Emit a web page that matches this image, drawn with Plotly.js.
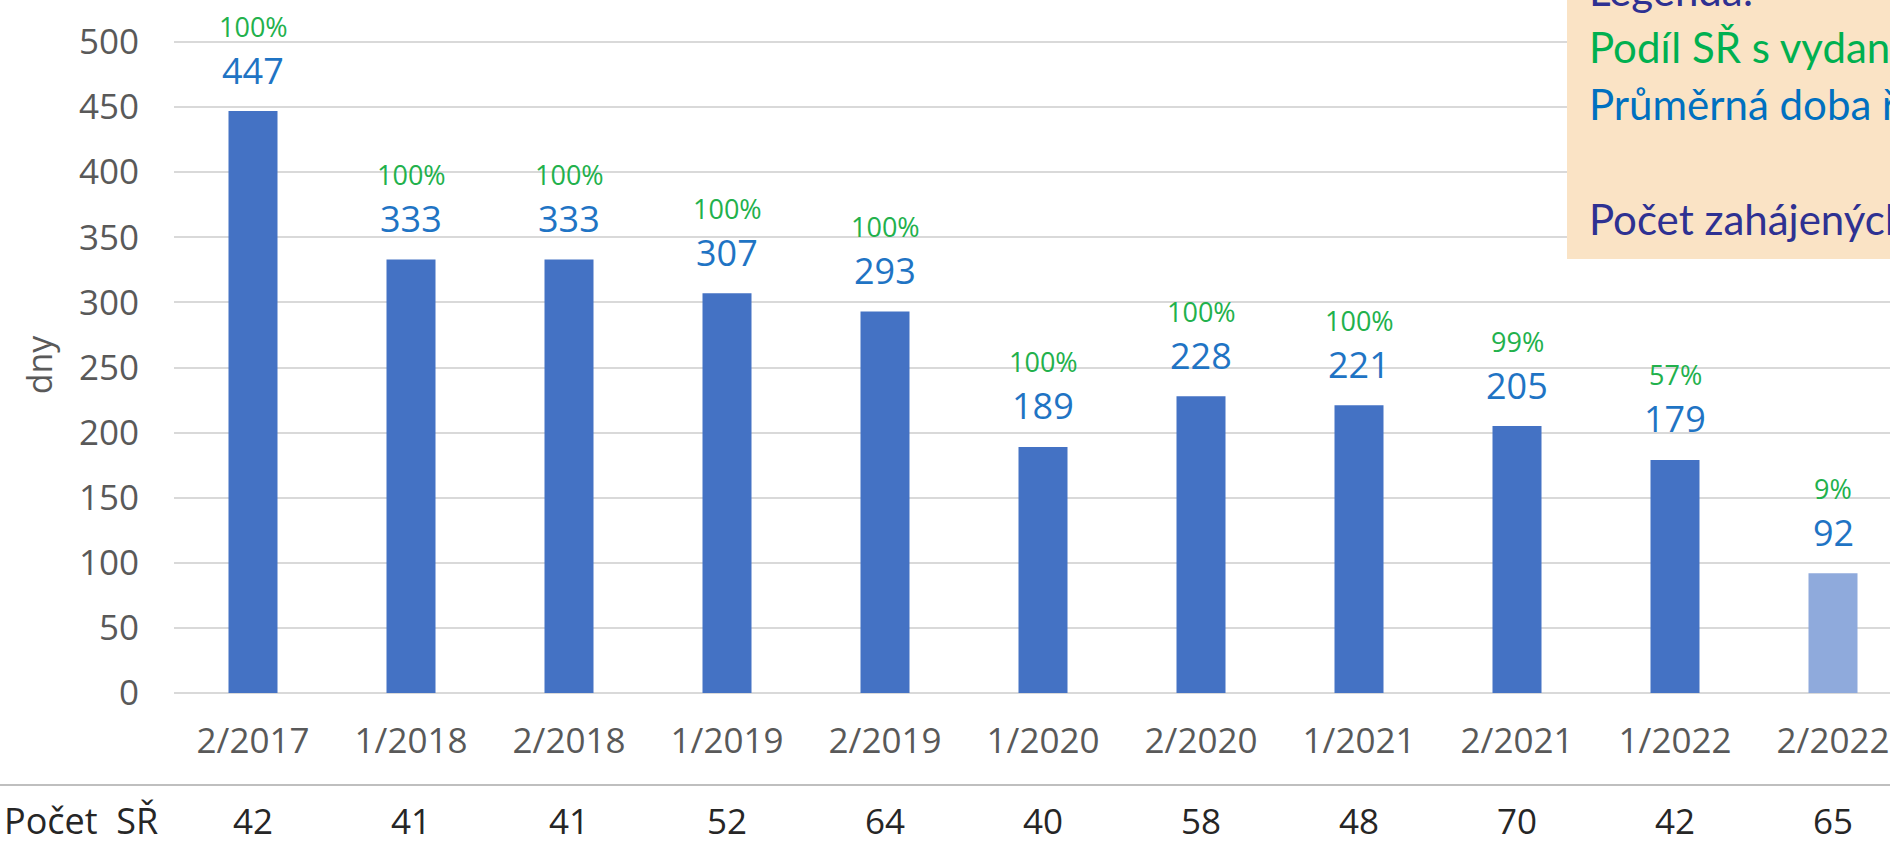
<!DOCTYPE html>
<html>
<head>
<meta charset="utf-8">
<script src="https://cdn.plot.ly/plotly-3.0.1.min.js"></script>
<style>
  html, body { margin: 0; padding: 0; background: #ffffff; overflow: hidden; }
  #chart { width: 1890px; height: 844px; }
</style>
</head>
<body>
<div id="chart"></div>
<script>
// ---- data ----
const categories = ['2/2017', '1/2018', '2/2018', '1/2019', '2/2019', '1/2020', '2/2020', '1/2021', '2/2021', '1/2022', '2/2022'];
const durationDays = [447, 333, 333, 307, 293, 189, 228, 221, 205, 179, 92];
const sharePercent = [100, 100, 100, 100, 100, 100, 100, 100, 99, 57, 9];
const caseCounts = [42, 41, 41, 52, 64, 40, 58, 48, 70, 42, 65];
const yTicks = [0, 50, 100, 150, 200, 250, 300, 350, 400, 450, 500];
const rowLabel = 'Počet  SŘ';
const legendLines = ['Legenda:', 'Podíl SŘ s vydaným rozhodnutím', 'Průměrná doba řízení', 'Počet zahájených SŘ'];

// ---- layout geometry ----
const W = 1890, H = 844;
const mL = 174, mR = 0, mT = 37, mB = 151;
const plotW = W - mL - mR, plotH = H - mT - mB;
const slot = 158;               // px per category
const pxPerUnit = 651 / 500;    // px per day
const xr = [-0.5, -0.5 + plotW / slot];
const yr = [0, plotH / pxPerUnit];
const pX = x => (x - mL) / plotW;
const pY = y => (H - mB - y) / plotH;

const dark = '#4472C4', light = '#8FAADC';
const barColors = categories.map((c, i) => i === categories.length - 1 ? light : dark);

const trace = {
  type: 'bar',
  x: categories,
  y: durationDays,
  marker: { color: barColors, line: { width: 0 } },
  hoverinfo: 'x+y',
  showlegend: false
};

const annotations = [];
categories.forEach((c, i) => {
  annotations.push({
    x: c, y: durationDays[i], xref: 'x', yref: 'y',
    text: String(durationDays[i]), showarrow: false,
    xanchor: 'center', yanchor: 'middle', yshift: 41,
    font: { family: 'Open Sans, sans-serif', size: 36, color: '#1F74C4' }
  });
  annotations.push({
    x: c, y: durationDays[i], xref: 'x', yref: 'y',
    text: sharePercent[i] + '%', showarrow: false,
    xanchor: 'center', yanchor: 'middle', yshift: 85,
    font: { family: 'Open Sans, sans-serif', size: 27, color: '#22B14C' }
  });
  annotations.push({
    x: c, y: pY(820), xref: 'x', yref: 'paper',
    text: String(caseCounts[i]), showarrow: false,
    xanchor: 'center', yanchor: 'middle',
    font: { family: 'Open Sans, sans-serif', size: 35, color: '#262626' }
  });
});
annotations.push({
  x: pX(2), y: pY(820), xref: 'paper', yref: 'paper',
  text: rowLabel, showarrow: false, xanchor: 'left', yanchor: 'middle',
  font: { family: 'Open Sans, sans-serif', size: 36, color: '#262626' }
});
const legendColors = ['#2E3192', '#00B050', '#0070C0', '#2E3192'];
const legendY = [-10, 47, 104, 219];
legendLines.forEach((t, i) => {
  annotations.push({
    x: pX(1587), y: pY(legendY[i]), xref: 'paper', yref: 'paper',
    text: t, showarrow: false, xanchor: 'left', yanchor: 'middle',
    font: { family: 'Lato, sans-serif', size: 42, color: legendColors[i] }
  });
});

const shapes = [
  { type: 'line', xref: 'paper', yref: 'paper', x0: pX(0), x1: 1.05, y0: pY(785), y1: pY(785),
    line: { color: '#BFBFBF', width: 2 } },
  { type: 'rect', xref: 'paper', yref: 'paper', x0: pX(1567), x1: pX(1960), y0: pY(259), y1: pY(-30),
    fillcolor: '#FAE3C5', line: { width: 0 }, layer: 'above' }
];

const layout = {
  width: W, height: H,
  margin: { l: mL, r: mR, t: mT, b: mB, pad: 0 },
  paper_bgcolor: '#ffffff', plot_bgcolor: '#ffffff',
  bargap: 1 - 49 / slot,
  showlegend: false,
  xaxis: {
    type: 'category', range: xr, fixedrange: true,
    showgrid: false, zeroline: false, showline: false, ticks: '',
    ticklabelstandoff: 24,
    tickfont: { family: 'Open Sans, sans-serif', size: 35, color: '#595959' }
  },
  yaxis: {
    range: yr, tickvals: yTicks, fixedrange: true,
    showgrid: true, gridcolor: '#D9D9D9', gridwidth: 2,
    zeroline: true, zerolinecolor: '#D9D9D9', zerolinewidth: 2,
    showline: false, ticks: '',
    ticklabelstandoff: 34,
    tickfont: { family: 'Open Sans, sans-serif', size: 35, color: '#595959' },
    title: { text: 'dny', standoff: 16, font: { family: 'Open Sans, sans-serif', size: 34, color: '#595959' } }
  },
  annotations: annotations,
  shapes: shapes
};

Plotly.newPlot('chart', [trace], layout, { displayModeBar: false, responsive: false });
</script>
</body>
</html>
